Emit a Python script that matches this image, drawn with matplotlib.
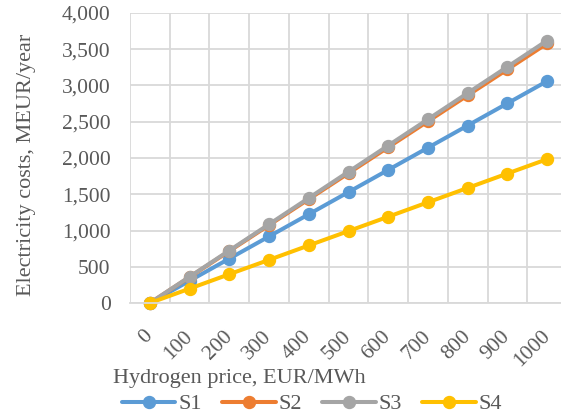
#!/usr/bin/env python3
"""
plot.py
Electricity costs vs hydrogen price for four scenarios
"""
import numpy as np
import matplotlib
matplotlib.use('Agg')
import matplotlib.pyplot as plt

# Data
prices = ['0', '100', '200', '300', '400', '500', '600', '700', '800', '900', '1000']
s1 = [0, 306, 612, 918, 1224, 1530, 1836, 2142, 2448, 2754, 3060]
s2 = [0, 358, 716, 1074, 1432, 1790, 2148, 2506, 2864, 3222, 3580]
s3 = [0, 362, 724, 1086, 1448, 1810, 2172, 2534, 2896, 3258, 3620]
s4 = [0, 198, 397, 595, 794, 992, 1190, 1389, 1587, 1786, 1984]
series = {'S1': s1, 'S2': s2, 'S3': s3, 'S4': s4}
colors = ['#5B9BD5', '#ED7D31', '#A5A5A5', '#FFC000']

text_color = '#595959'
grid_color = '#D9D9D9'

plt.rcParams['font.family'] = ['Liberation Serif', 'DejaVu Serif']
plt.rcParams['font.size'] = 15.5

W, H = 561, 419
fig = plt.figure(figsize=(W / 100, H / 100), dpi=100)
# plot area runs past the right edge of the picture, as in the reference
ax = fig.add_axes([130 / W, (H - 303) / H, 437 / W, 290 / H])

x = np.arange(len(prices))
for (name, vals), color in zip(series.items(), colors):
    ax.plot(x, vals, color=color, lw=2.9, marker='o', markersize=8.6,
            label=name, solid_capstyle='round', clip_on=False)

ax.set_xlim(-0.5, len(prices) - 0.5)
ax.set_ylim(0, 4000)
ax.set_yticks(np.arange(0, 4001, 500))
ax.set_yticklabels([f'{v:,}' for v in range(0, 4001, 500)])
ax.set_xticks(x)
ax.set_xticklabels(prices, rotation=45, ha='right', va='center',
                   rotation_mode='anchor')
ax.set_xticks(np.arange(-0.5, len(prices), 1), minor=True)

ax.grid(axis='y', color=grid_color, lw=1.3)
ax.grid(axis='x', which='minor', color=grid_color, lw=1.3)
ax.set_axisbelow(True)
for side in ['left', 'right', 'top']:
    ax.spines[side].set_visible(False)
ax.spines['bottom'].set_color(grid_color)
ax.spines['bottom'].set_linewidth(1.3)
ax.tick_params(which='both', length=0, colors=text_color)
ax.tick_params(axis='y', pad=14)
ax.tick_params(axis='x', pad=22)

fig.text(27 / W, 1 - 165 / H, 'Electricity costs, MEUR/year', rotation=90,
         ha='center', va='center', color=text_color, fontsize=16)
fig.text(113 / W, 1 - 378 / H, 'Hydrogen price, EUR/MWh',
         ha='left', va='center', color=text_color, fontsize=16)

fig.legend(loc='center left', bbox_to_anchor=(122 / W, 1 - 404 / H),
           ncol=4, frameon=False, borderaxespad=0, borderpad=0,
           handlelength=2.4, handletextpad=0.12, columnspacing=0.93,
           labelcolor=text_color, fontsize=16)

fig.savefig('out.png', dpi=100)
